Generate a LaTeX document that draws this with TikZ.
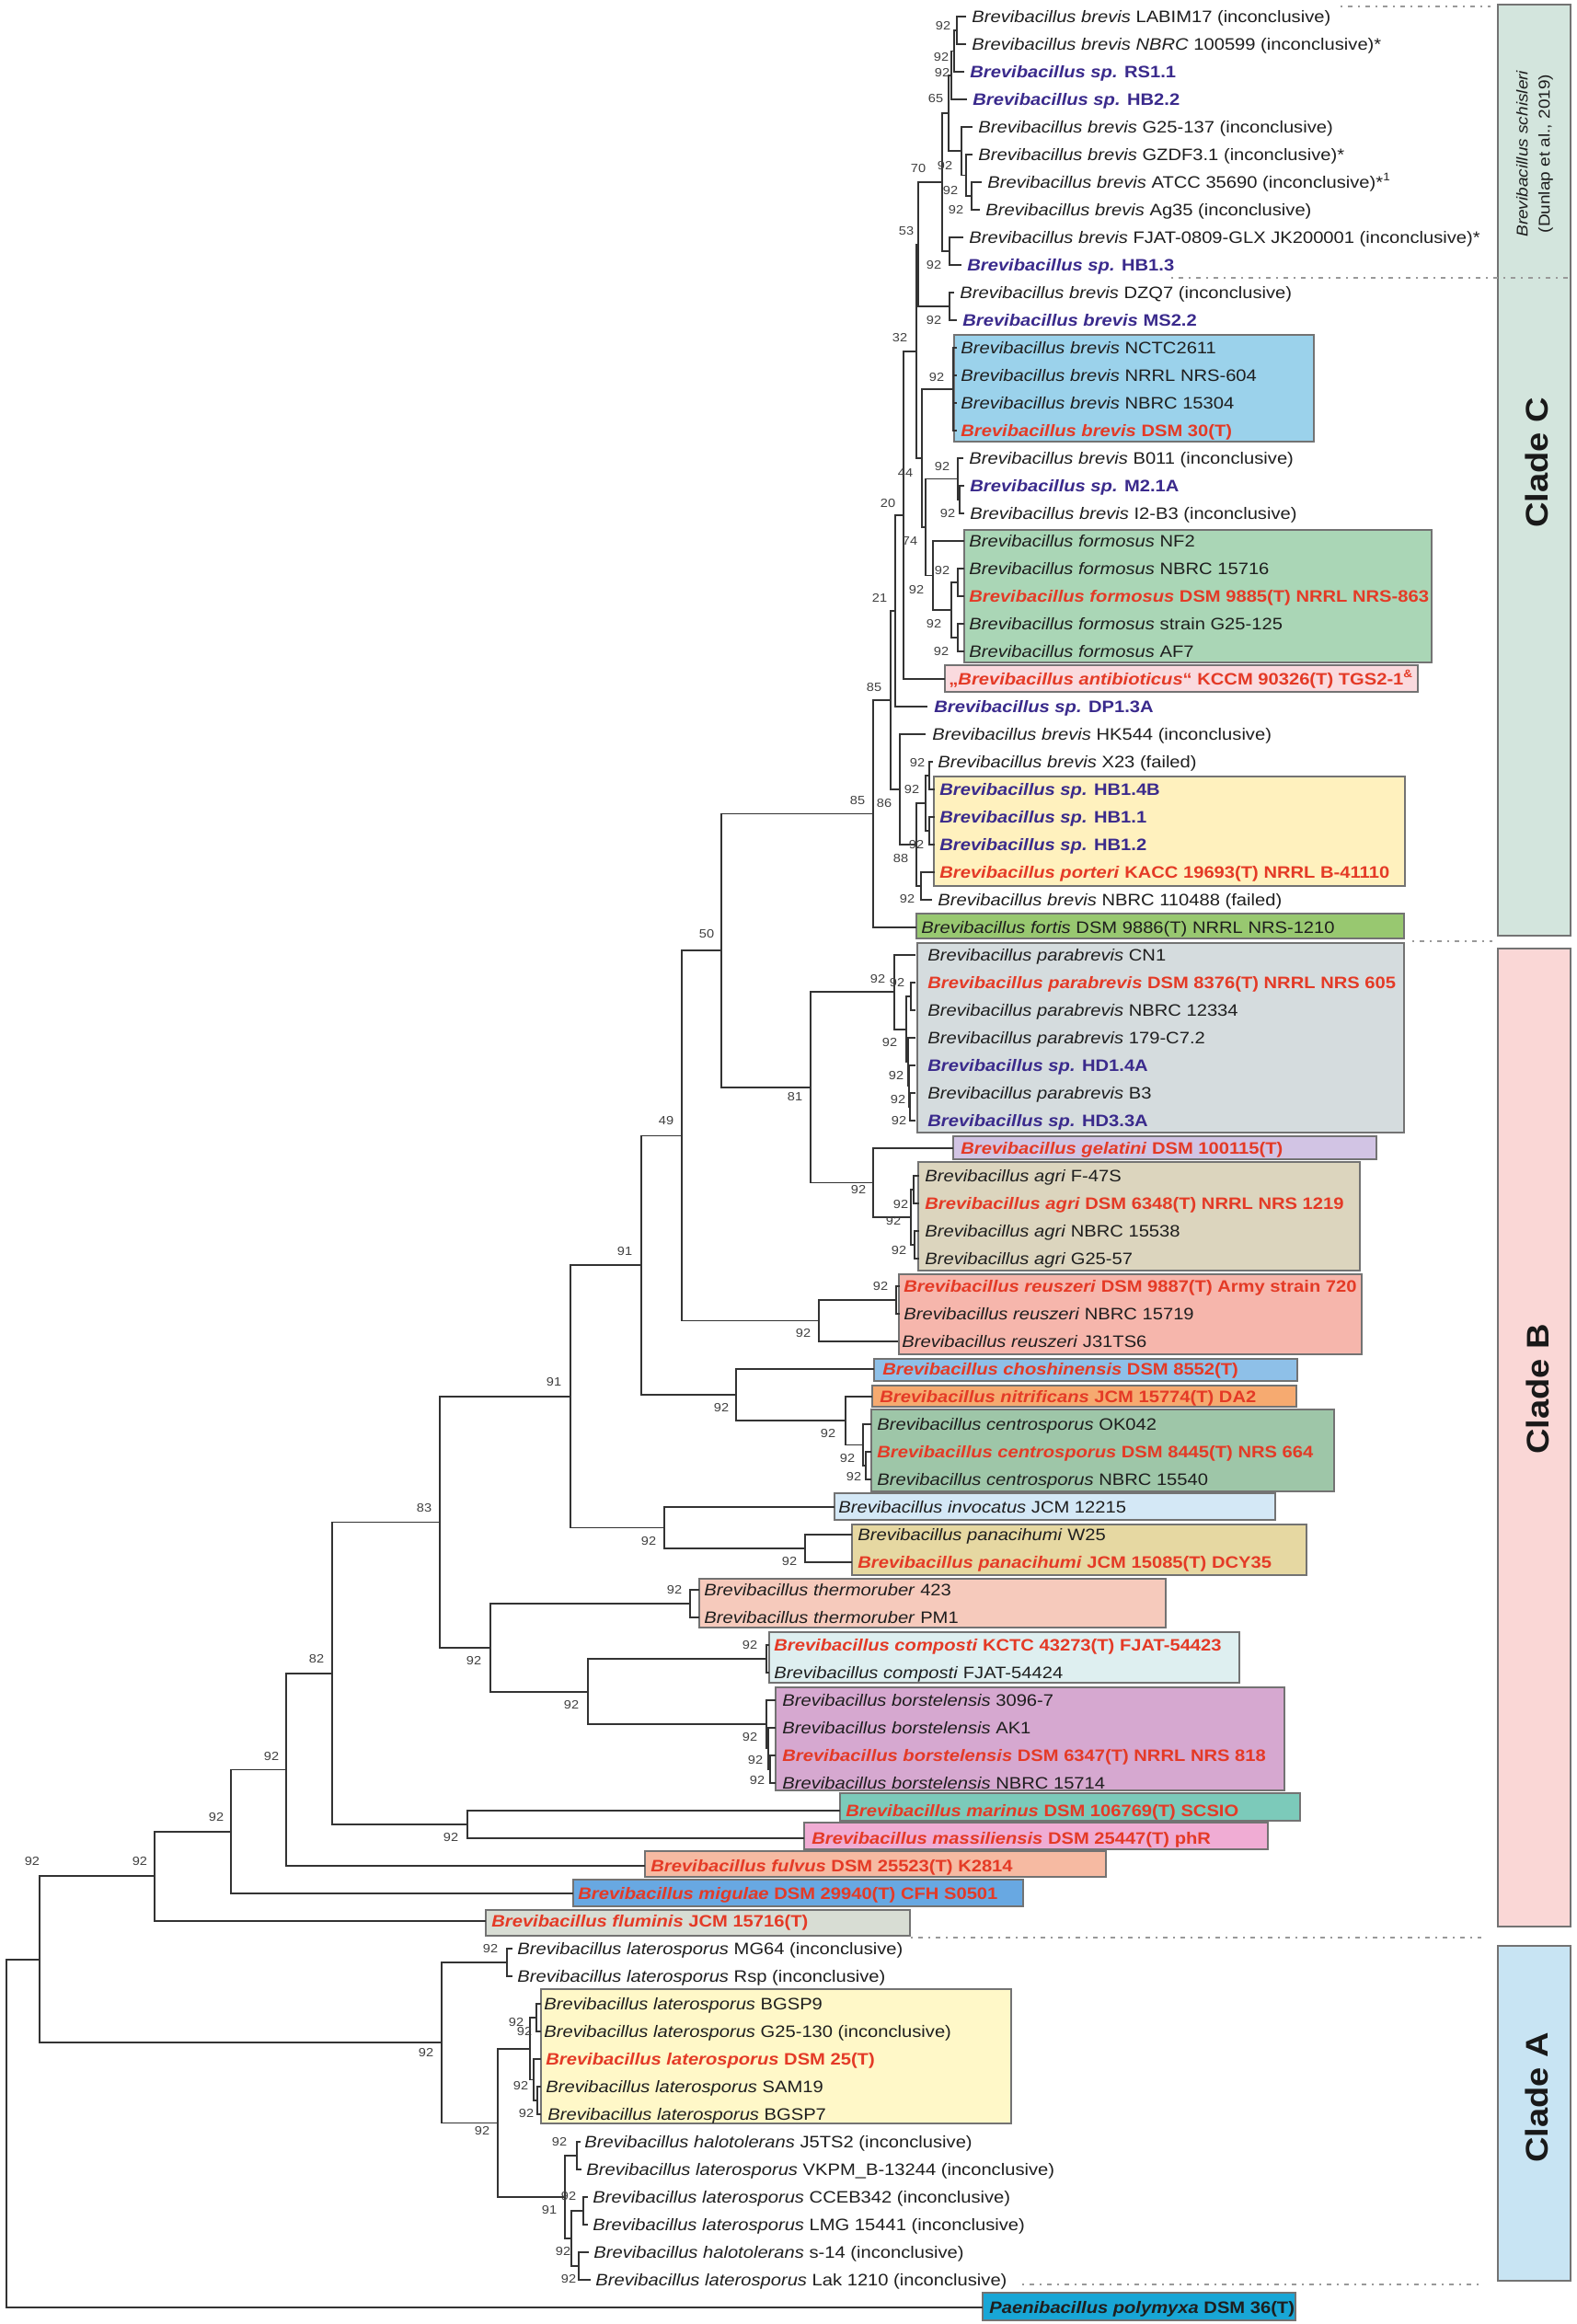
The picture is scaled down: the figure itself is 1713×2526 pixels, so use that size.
\documentclass[tikz,border=0pt]{standalone}
\usepackage{fontspec}
\setmainfont{Liberation Sans}[FakeStretch=1.12]
\usetikzlibrary{calc}
\definecolor{purp}{RGB}{58,42,140}
\definecolor{redt}{RGB}{228,58,38}
\definecolor{txt}{RGB}{30,30,30}
\definecolor{cA}{RGB}{155,210,235}
\definecolor{cB}{RGB}{170,214,182}
\definecolor{cC}{RGB}{250,218,222}
\definecolor{cD}{RGB}{255,241,190}
\definecolor{cE}{RGB}{152,200,112}
\definecolor{cF}{RGB}{213,220,222}
\definecolor{cG}{RGB}{210,196,228}
\definecolor{cH}{RGB}{220,213,190}
\definecolor{cI}{RGB}{246,182,172}
\definecolor{cJ}{RGB}{142,192,232}
\definecolor{cK}{RGB}{246,170,112}
\definecolor{cL}{RGB}{158,198,168}
\definecolor{cM}{RGB}{212,232,246}
\definecolor{cN}{RGB}{230,216,162}
\definecolor{cO}{RGB}{246,202,188}
\definecolor{cP}{RGB}{222,239,240}
\definecolor{cQ}{RGB}{214,168,208}
\definecolor{cR}{RGB}{124,202,186}
\definecolor{cS}{RGB}{240,172,212}
\definecolor{cT}{RGB}{246,186,162}
\definecolor{cU}{RGB}{104,168,226}
\definecolor{cV}{RGB}{216,221,212}
\definecolor{cW}{RGB}{255,248,200}
\definecolor{cX}{RGB}{24,166,214}
\definecolor{barC}{RGB}{211,229,221}
\definecolor{barB}{RGB}{250,215,214}
\definecolor{barA}{RGB}{200,228,243}
\newcommand\LeafN[2]{\textit{Brevibacillus #1} #2}
\newcommand\LeafS[1]{\textcolor{purp}{\bfseries\textit{Brevibacillus sp.} #1}}
\newcommand\LeafT[2]{\textcolor{redt}{\bfseries\textit{Brevibacillus #1} #2}}
\begin{document}
\begin{tikzpicture}[x=0.5pt,y=-0.5pt,
  br/.style={draw=black!80,line width=0.9pt},
  lf/.style={anchor=base west,inner sep=0pt,font=\fontsize{9}{11}\selectfont,text=txt},
  bsl/.style={inner sep=0pt,font=\fontsize{6.5}{8}\selectfont,text=black!75},
  bx/.style={draw=black!55,line width=0.6pt},
  dd/.style={draw=black!40,line width=0.6pt,dash pattern=on 1pt off 3pt on 2.5pt off 3pt},
  clade/.style={rotate=90,inner sep=0pt,font=\fontsize{17}{20}\selectfont\bfseries,text=black!90}]
\path[use as bounding box,fill=white] (0,0) rectangle (1713,2526);
% clade bars
\path[bx,fill=barC] (1628,5) rectangle (1707,1017);
\path[bx,fill=barB] (1628,1031) rectangle (1707,2094);
\path[bx,fill=barA] (1628,2115) rectangle (1707,2479);
% boxes
\foreach \a/\b/\c/\d/\col in {1037/364/1428/480/cA,1048/576/1556/720/cB,1027/723/1541/752/cC,1015/844/1527/963/cD,996/993/1526/1020/cE,997/1025/1526/1231/cF,1036/1235/1496/1260/cG,998/1263/1478/1381/cH,977/1385/1480/1472/cI,950/1477/1410/1501/cJ,948/1506/1409/1529/cK,947/1532/1450/1621/cL,907/1623/1386/1652/cM,926/1657/1420/1712/cN,760/1716/1267/1769/cO,836/1774/1347/1829/cP,843/1834/1396/1946/cQ,913/1949/1413/1979/cR,874/1981/1378/2010/cS,701/2012/1202/2040/cT,623/2043/1112/2072/cU,528/2076/989/2104/cV,588/2162/1099/2308/cW,1068/2492/1408/2522/cX}
  {\path[bx,fill=\col] (\a,\b) rectangle (\c,\d);}
% dash-dot separators
\draw[dd] (1457,7) -- (1620,7);
\draw[dd] (1273,302) -- (1707,302);
\draw[dd] (1535,1023) -- (1622,1023);
\draw[dd] (990,2106) -- (1610,2106);
\draw[dd] (1111,2483) -- (1607,2483);
% clade labels
\node[clade] (cladeC) at (1670,503) {Clade C};
\node[clade] (cladeB) at (1671,1510) {Clade B};
\node[clade] (cladeA) at (1670,2280) {Clade A};
\node[rotate=90,align=center,inner sep=0pt,font=\fontsize{8.5}{12}\selectfont,text=txt] (schis) at (1668,167) {\textit{Brevibacillus schisleri}\\(Dunlap et al., 2019)};
% leaves
\foreach \i/\ex/\tx/\txt in {
1/1050/1056/{\LeafN{brevis}{LABIM17 (inconclusive)}},
2/1050/1056/{\textit{Brevibacillus brevis NBRC} 100599 (inconclusive)*},
3/1048/1054/{\LeafS{RS1.1}},
4/1051/1057/{\LeafS{HB2.2}},
5/1057/1063/{\LeafN{brevis}{G25-137 (inconclusive)}},
6/1057/1063/{\LeafN{brevis}{GZDF3.1 (inconclusive)*}},
7/1067/1073/{\LeafN{brevis}{ATCC 35690 (inconclusive)*\textsuperscript{1}}},
8/1065/1071/{\LeafN{brevis}{Ag35 (inconclusive)}},
9/1047/1053/{\LeafN{brevis}{FJAT-0809-GLX JK200001 (inconclusive)*}},
10/1045/1051/{\LeafS{HB1.3}},
11/1037/1043/{\LeafN{brevis}{DZQ7 (inconclusive)}},
12/1040/1046/{\textcolor{purp}{\bfseries\textit{Brevibacillus brevis} MS2.2}},
13/1040/1044/{\LeafN{brevis}{NCTC2611}},
14/1040/1044/{\LeafN{brevis}{NRRL NRS-604}},
15/1040/1044/{\LeafN{brevis}{NBRC 15304}},
16/1040/1044/{\LeafT{brevis}{DSM 30(T)}},
17/1047/1053/{\LeafN{brevis}{B011 (inconclusive)}},
18/1048/1054/{\LeafS{M2.1A}},
19/1048/1054/{\LeafN{brevis}{I2-B3 (inconclusive)}},
20/1048/1053/{\LeafN{formosus}{NF2}},
21/1048/1053/{\LeafN{formosus}{NBRC 15716}},
22/1048/1053/{\LeafT{formosus}{DSM 9885(T) NRRL NRS-863}},
23/1048/1053/{\LeafN{formosus}{strain G25-125}},
24/1048/1053/{\LeafN{formosus}{AF7}},
25/1027/1031/{\textcolor{redt}{\bfseries „\textit{Brevibacillus antibioticus}“ KCCM 90326(T) TGS2-1\textsuperscript{\&}}},
26/1008/1015/{\LeafS{DP1.3A}},
27/1006/1013/{\LeafN{brevis}{HK544 (inconclusive)}},
28/1014/1019/{\LeafN{brevis}{X23 (failed)}},
29/1016/1021/{\LeafS{HB1.4B}},
30/1016/1021/{\LeafS{HB1.1}},
31/1016/1021/{\LeafS{HB1.2}},
32/1016/1021/{\LeafT{porteri}{KACC 19693(T) NRRL B-41110}},
33/1013/1019/{\LeafN{brevis}{NBRC 110488 (failed)}},
34/996/1001/{\LeafN{fortis}{DSM 9886(T) NRRL NRS-1210}},
35/995/1008/{\LeafN{parabrevis}{CN1}},
36/995/1008/{\LeafT{parabrevis}{DSM 8376(T) NRRL NRS 605}},
37/995/1008/{\LeafN{parabrevis}{NBRC 12334}},
38/995/1008/{\LeafN{parabrevis}{179-C7.2}},
39/995/1008/{\LeafS{HD1.4A}},
40/995/1008/{\LeafN{parabrevis}{B3}},
41/995/1008/{\LeafS{HD3.3A}},
42/1036/1044/{\LeafT{gelatini}{DSM 100115(T)}},
43/999/1005/{\LeafN{agri}{F-47S}},
44/999/1005/{\LeafT{agri}{DSM 6348(T) NRRL NRS 1219}},
45/999/1005/{\LeafN{agri}{NBRC 15538}},
46/999/1005/{\LeafN{agri}{G25-57}},
47/978/982/{\LeafT{reuszeri}{DSM 9887(T) Army strain 720}},
48/978/982/{\LeafN{reuszeri}{NBRC 15719}},
49/976/980/{\LeafN{reuszeri}{J31TS6}},
50/950/959/{\LeafT{choshinensis}{DSM 8552(T)}},
51/948/956/{\LeafT{nitrificans}{JCM 15774(T) DA2}},
52/947/953/{\LeafN{centrosporus}{OK042}},
53/947/953/{\LeafT{centrosporus}{DSM 8445(T) NRS 664}},
54/947/953/{\LeafN{centrosporus}{NBRC 15540}},
55/907/911/{\LeafN{invocatus}{JCM 12215}},
56/926/932/{\LeafN{panacihumi}{W25}},
57/926/932/{\LeafT{panacihumi}{JCM 15085(T) DCY35}},
58/760/765/{\LeafN{thermoruber}{423}},
59/760/765/{\LeafN{thermoruber}{PM1}},
60/836/841/{\LeafT{composti}{KCTC 43273(T) FJAT-54423}},
61/836/841/{\LeafN{composti}{FJAT-54424}},
62/843/850/{\LeafN{borstelensis}{3096-7}},
63/843/850/{\LeafN{borstelensis}{AK1}},
64/843/850/{\LeafT{borstelensis}{DSM 6347(T) NRRL NRS 818}},
65/843/850/{\LeafN{borstelensis}{NBRC 15714}},
66/913/919/{\LeafT{marinus}{DSM 106769(T) SCSIO}},
67/874/882/{\LeafT{massiliensis}{DSM 25447(T) phR}},
68/701/707/{\LeafT{fulvus}{DSM 25523(T) K2814}},
69/623/628/{\LeafT{migulae}{DSM 29940(T) CFH S0501}},
70/528/534/{\LeafT{fluminis}{JCM 15716(T)}},
71/557/562/{\LeafN{laterosporus}{MG64 (inconclusive)}},
72/557/562/{\LeafN{laterosporus}{Rsp (inconclusive)}},
73/588/591/{\LeafN{laterosporus}{BGSP9}},
74/588/591/{\LeafN{laterosporus}{G25-130 (inconclusive)}},
75/588/593/{\LeafT{laterosporus}{DSM 25(T)}},
76/588/593/{\LeafN{laterosporus}{SAM19}},
77/588/595/{\LeafN{laterosporus}{BGSP7}},
78/631/635/{\LeafN{halotolerans}{J5TS2 (inconclusive)}},
79/632/637/{\LeafN{laterosporus}{VKPM\_B-13244 (inconclusive)}},
80/639/644/{\LeafN{laterosporus}{CCEB342 (inconclusive)}},
81/639/644/{\LeafN{laterosporus}{LMG 15441 (inconclusive)}},
82/640/645/{\LeafN{halotolerans}{s-14 (inconclusive)}},
83/642/647/{\LeafN{laterosporus}{Lak 1210 (inconclusive)}},
84/1068/1075/{{\bfseries\textit{Paenibacillus polymyxa} DSM 36(T)}}}
{
  \coordinate (L\i) at (\ex,{18+30*(\i-1)});
  \node[lf] (T\i) at (\tx,{18+30*(\i-1)+6.5}) {\txt};
}
% internal nodes
\coordinate (P1) at (1040,33);
\coordinate (P2) at (1037,55.5);
\coordinate (P3) at (1034,81.75);
\coordinate (g1) at (1056,213);
\coordinate (g2) at (1050,190.5);
\coordinate (g3) at (1045,164.25);
\coordinate (R) at (1031,123);
\coordinate (FJ) at (1032,273);
\coordinate (Q) at (1024,198);
\coordinate (DM) at (1032,333);
\coordinate (U) at (998,265.5);
\coordinate (NC) at (1036,423);
\coordinate (m) at (1043,543);
\coordinate (M) at (1041,520.5);
\coordinate (fa) at (1041,633);
\coordinate (fb) at (1041,693);
\coordinate (F2) at (1034,663);
\coordinate (F1) at (1014,625.5);
\coordinate (S) at (1006,573);
\coordinate (T) at (1002,498);
\coordinate (V) at (996,381.75);
\coordinate (W) at (982,559.9);
\coordinate (Y) at (973,664);
\coordinate (za) at (1010,843);
\coordinate (zb) at (1010,903);
\coordinate (Z3) at (1006,873);
\coordinate (por) at (1001,963);
\coordinate (Z2) at (996,918);
\coordinate (Z) at (978,858);
\coordinate (X) at (968,761);
\coordinate (A85) at (949,884.5);
\coordinate (pb4) at (989,1203);
\coordinate (pb3) at (988,1180.5);
\coordinate (pb2) at (987,1154.25);
\coordinate (pb1) at (990,1083);
\coordinate (Pb) at (985,1118.6);
\coordinate (Pa) at (972,1078.3);
\coordinate (ag1) at (993,1293);
\coordinate (ag3) at (994,1353);
\coordinate (ag) at (990,1323);
\coordinate (G) at (949,1285.5);
\coordinate (N81) at (881,1181.9);
\coordinate (N50) at (784,1033.2);
\coordinate (reua) at (974,1413);
\coordinate (reu) at (890,1435.5);
\coordinate (N49) at (741,1234.4);
\coordinate (ce2) at (941,1593);
\coordinate (ce) at (938,1570.5);
\coordinate (nt) at (919,1544.25);
\coordinate (ch) at (800,1516.1);
\coordinate (N697) at (697,1375.3);
\coordinate (pan) at (875,1683);
\coordinate (inv) at (722,1660.5);
\coordinate (N620) at (620,1517.9);
\coordinate (th) at (750,1743);
\coordinate (comp) at (833,1803);
\coordinate (bo3) at (837,1923);
\coordinate (bo2) at (835,1900.5);
\coordinate (bo) at (833,1874.25);
\coordinate (N639) at (639,1838.6);
\coordinate (N533) at (533,1790.8);
\coordinate (N478) at (478,1654.4);
\coordinate (mm) at (508,1983);
\coordinate (N361) at (361,1818.7);
\coordinate (N311) at (311,1923.4);
\coordinate (N251) at (251,1990.7);
\coordinate (N168) at (168,2039.3);
\coordinate (mg) at (551,2133);
\coordinate (ba) at (583,2193);
\coordinate (bb) at (584,2283);
\coordinate (bc) at (580,2260.5);
\coordinate (BG) at (576,2226.75);
\coordinate (j5) at (627,2343);
\coordinate (cl) at (634,2403);
\coordinate (sl) at (629,2463);
\coordinate (L2n) at (621,2433);
\coordinate (h614) at (614,2388);
\coordinate (N541) at (541,2307.4);
\coordinate (N480) at (480,2220.2);
\coordinate (N43) at (43,2129.7);
\coordinate (root) at (7,2318.9);
% branches
\draw[br] (L1) -| (P1) |- (L2);
\draw[br] (P1) -| (P2) |- (L3);
\draw[br] (P2) -| (P3) |- (L4);
\draw[br] (L7) -| (g1) |- (L8);
\draw[br] (L6) -| (g2) |- (g1);
\draw[br] (L5) -| (g3) |- (g2);
\draw[br] (P3) -| (R) |- (g3);
\draw[br] (L9) -| (FJ) |- (L10);
\draw[br] (R) -| (Q) |- (FJ);
\draw[br] (L11) -| (DM) |- (L12);
\draw[br] (Q) -| (U) |- (DM);
\draw[br] (L13) -| (NC) |- (L16);
\draw[br] (NC|-L14) -- (L14);
\draw[br] (NC|-L15) -- (L15);
\draw[br] (L18) -| (m) |- (L19);
\draw[br] (L17) -| (M) |- (m);
\draw[br] (L21) -| (fa) |- (L22);
\draw[br] (L23) -| (fb) |- (L24);
\draw[br] (fa) -| (F2) |- (fb);
\draw[br] (L20) -| (F1) |- (F2);
\draw[br] (M) -| (S) |- (F1);
\draw[br] (NC) -| (T) |- (S);
\draw[br] (U) -| (V) |- (T);
\draw[br] (V) -| (W) |- (L25);
\draw[br] (W) -| (Y) |- (L26);
\draw[br] (L28) -| (za) |- (L29);
\draw[br] (L30) -| (zb) |- (L31);
\draw[br] (za) -| (Z3) |- (zb);
\draw[br] (L32) -| (por) |- (L33);
\draw[br] (Z3) -| (Z2) |- (por);
\draw[br] (L27) -| (Z) |- (Z2);
\draw[br] (Y) -| (X) |- (Z);
\draw[br] (X) -| (A85) |- (L34);
\draw[br] (A85) -| (N50) |- (N81);
\draw[br] (L40) -| (pb4) |- (L41);
\draw[br] (L39) -| (pb3) |- (pb4);
\draw[br] (L38) -| (pb2) |- (pb3);
\draw[br] (L36) -| (pb1) |- (L37);
\draw[br] (pb1) -| (Pb) |- (pb2);
\draw[br] (L35) -| (Pa) |- (Pb);
\draw[br] (L43) -| (ag1) |- (L44);
\draw[br] (L45) -| (ag3) |- (L46);
\draw[br] (ag1) -| (ag) |- (ag3);
\draw[br] (L42) -| (G) |- (ag);
\draw[br] (Pa) -| (N81) |- (G);
\draw[br] (L47) -| (reua) |- (L48);
\draw[br] (reua) -| (reu) |- (L49);
\draw[br] (N50) -| (N49) |- (reu);
\draw[br] (L53) -| (ce2) |- (L54);
\draw[br] (L52) -| (ce) |- (ce2);
\draw[br] (L51) -| (nt) |- (ce);
\draw[br] (L50) -| (ch) |- (nt);
\draw[br] (N49) -| (N697) |- (ch);
\draw[br] (L56) -| (pan) |- (L57);
\draw[br] (L55) -| (inv) |- (pan);
\draw[br] (N697) -| (N620) |- (inv);
\draw[br] (L58) -| (th) |- (L59);
\draw[br] (L60) -| (comp) |- (L61);
\draw[br] (L64) -| (bo3) |- (L65);
\draw[br] (L63) -| (bo2) |- (bo3);
\draw[br] (L62) -| (bo) |- (bo2);
\draw[br] (comp) -| (N639) |- (bo);
\draw[br] (th) -| (N533) |- (N639);
\draw[br] (N620) -| (N478) |- (N533);
\draw[br] (L66) -| (mm) |- (L67);
\draw[br] (N478) -| (N361) |- (mm);
\draw[br] (N361) -| (N311) |- (L68);
\draw[br] (N311) -| (N251) |- (L69);
\draw[br] (N251) -| (N168) |- (L70);
\draw[br] (L71) -| (mg) |- (L72);
\draw[br] (L73) -| (ba) |- (L74);
\draw[br] (L76) -| (bb) |- (L77);
\draw[br] (L75) -| (bc) |- (bb);
\draw[br] (ba) -| (BG) |- (bc);
\draw[br] (L78) -| (j5) |- (L79);
\draw[br] (L80) -| (cl) |- (L81);
\draw[br] (L82) -| (sl) |- (L83);
\draw[br] (cl) -| (L2n) |- (sl);
\draw[br] (j5) -| (h614) |- (L2n);
\draw[br] (BG) -| (N541) |- (h614);
\draw[br] (mg) -| (N480) |- (N541);
\draw[br] (N168) -| (N43) |- (N480);
\draw[br] (N43) -| (root) |- (L84);
% bootstrap values
\foreach \x/\y/\t [count=\k] in {1025/28/92,1023/62/92,1024/79/92,1017/107/65,998/183/70,1027/180/92,1033/207/92,1039/228/92,985/251/53,1015/288/92,1015/348/92,978/367/32,1018/410/92,1024/507/92,984/514/44,1030/558/92,965/547/20,989/588/74,1024/620/92,996/641/92,956/650/21,1015/678/92,1023/708/92,950/747/85,997/829/92,991/858/92,932/870/85,961/873/86,996/918/92,979/933/88,986/977/92,768/1015/50,954/1064/92,975/1068/92,967/1133/92,974/1169/92,976/1195/92,977/1218/92,864/1192/81,724/1218/49,933/1293/92,979/1309/92,971/1327/92,977/1359/92,957/1398/92,679/1360/91,873/1449/92,602/1502/91,784/1530/92,900/1558/92,921/1585/92,928/1605/92,461/1639/83,705/1675/92,858/1697/92,733/1728/92,515/1805/92,815/1788/92,344/1803/82,621/1853/92,815/1888/92,821/1913/92,823/1935/92,295/1909/92,235/1975/92,490/1997/92,152/2023/92,35/2023/92,533/2118/92,463/2231/92,561/2198/92,570/2208/92,566/2267/92,572/2297/92,524/2316/92,608/2328/92,618/2387/92,597/2402/91,612/2447/92,618/2477/92}
  {\node[bsl] (bs\k) at (\x,\y) {\t};}
\end{tikzpicture}
\end{document}
